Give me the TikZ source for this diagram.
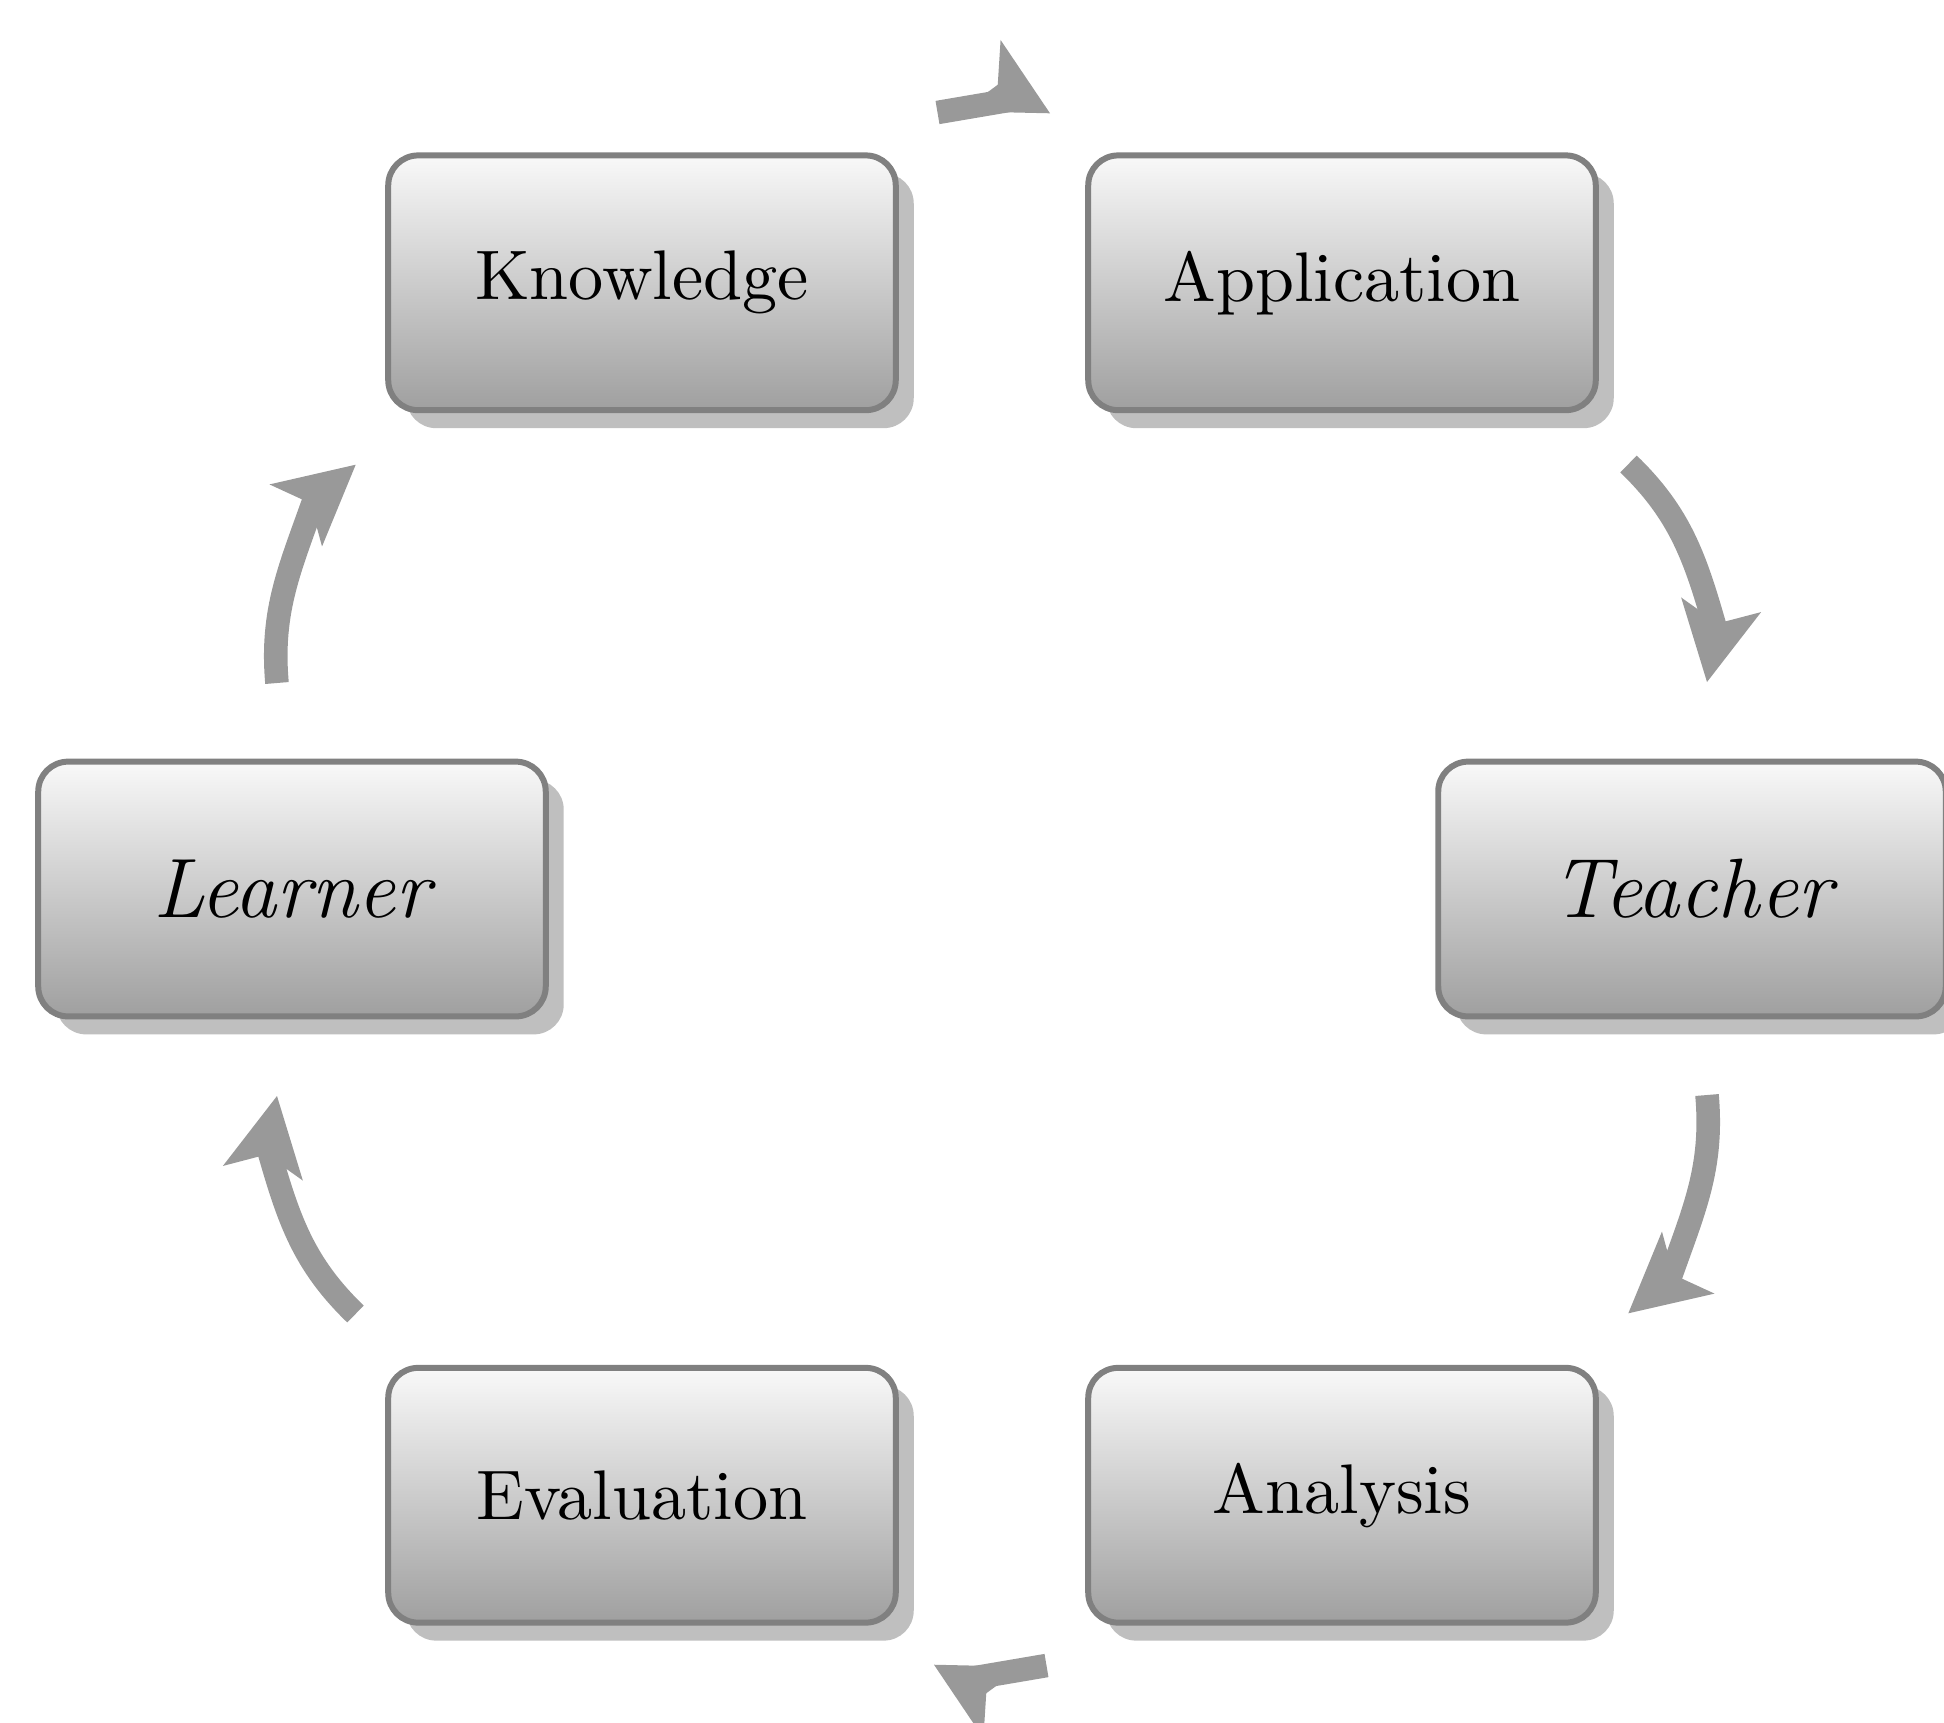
\documentclass[tikz,border=0pt]{standalone}
\usetikzlibrary{arrows.meta,shadows}
\definecolor{cyclegray}{gray}{0.6}
\begin{document}
\begin{tikzpicture}[x=0.005cm,y=0.005cm,
  stage/.style={rectangle, rounded corners=0.15cm, draw=gray, line width=0.03cm,
    top color=gray!5, bottom color=gray!75,
    minimum width=2.54cm, minimum height=1.275cm, inner sep=0pt,
    drop shadow={shadow xshift=0.09cm, shadow yshift=-0.09cm, fill=gray!50, opacity=1}},
  cyclearrow/.style={draw=cyclegray, line width=0.118cm, line cap=butt,
    -{Stealth[length=0.393cm, width=0.407cm, inset=0.095cm, line width=0pt]}}
]
\useasboundingbox (-992,-833) rectangle (952,889);

% the six stages on a circle
\node[stage] (teacher)     at (0:700)   {\large\itshape Teacher};
\node[stage] (application) at (60:700)  {Application};
\node[stage] (knowledge)   at (120:700) {Knowledge};
\node[stage] (learner)     at (180:700) {\large\itshape Learner};
\node[stage] (evaluation)  at (240:700) {Evaluation};
\node[stage] (analysis)    at (300:700) {Analysis};

% end points of the curved arrows between neighbouring stages
% (shaft start, shaft end, head base, head tip)
\coordinate (ka-s) at (-54.5,776.5);  \coordinate (ka-m) at (16,788.5);
\coordinate (ka-e) at (6.2,804);      \coordinate (ka-t) at (58,775.7);

\coordinate (at-s) at (636.5,425);    \coordinate (at-m) at (723,262);
\coordinate (at-e) at (725.6,265);    \coordinate (at-t) at (715,207);

\coordinate (tn-s) at (715,-206);     \coordinate (tn-m) at (677,-391.5);
\coordinate (tn-e) at (681.3,-386.2); \coordinate (tn-t) at (636.3,-424.3);

\coordinate (ne-s) at (54.5,-776.5);  \coordinate (ne-m) at (-16,-788.5);
\coordinate (ne-e) at (-6.2,-804);    \coordinate (ne-t) at (-58,-775.7);

\coordinate (el-s) at (-636.5,-425);  \coordinate (el-m) at (-723,-262);
\coordinate (el-e) at (-725.6,-265);  \coordinate (el-t) at (-715,-207);

\coordinate (lk-s) at (-715,206);     \coordinate (lk-m) at (-677,391.5);
\coordinate (lk-e) at (-681.3,386.2); \coordinate (lk-t) at (-636.3,424.3);

% clockwise cycle: Knowledge -> Application -> Teacher -> Analysis -> Evaluation -> Learner -> Knowledge
\draw[cyclearrow] (ka-s) -- (ka-m) (ka-e) -- (ka-t);
\draw[cyclearrow] (at-s) to[out=-44,in=106] (at-m) (at-e) -- (at-t);
\draw[cyclearrow] (tn-s) to[out=-85,in=70.7] (tn-m) (tn-e) -- (tn-t);
\draw[cyclearrow] (ne-s) -- (ne-m) (ne-e) -- (ne-t);
\draw[cyclearrow] (el-s) to[out=136,in=-74] (el-m) (el-e) -- (el-t);
\draw[cyclearrow] (lk-s) to[out=95,in=250.7] (lk-m) (lk-e) -- (lk-t);
\end{tikzpicture}
\end{document}
